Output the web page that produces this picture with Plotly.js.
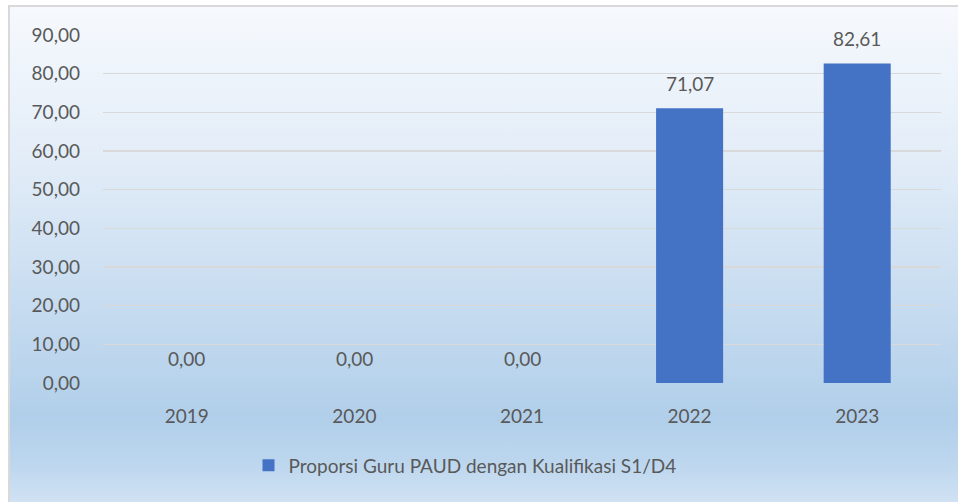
<!DOCTYPE html>
<html><head><meta charset="utf-8">
<script src="https://cdn.plot.ly/plotly-3.0.1.min.js"></script>
<style>
html,body{margin:0;padding:0;background:#fff;}
#wrap{position:absolute;left:8px;top:5px;width:950px;height:497px;box-sizing:border-box;border-left:2px solid #d9d9d9;border-top:2px solid #d9d9d9;
background:linear-gradient(to bottom,#f6f9fd 0%,#e3edf8 30%,#c7dcf0 60%,#b1cfea 83%,#bcd6ee 92%,#d0e2f3 100%);}
#chart{position:absolute;left:-10px;top:-7px;width:958px;height:502px;}
</style></head>
<body><div id="wrap"><div id="chart"></div></div>
<script>
const years = ['2019','2020','2021','2022','2023'];
const values = [0, 0, 0, 71.07, 82.61];
const seriesName = 'Proporsi Guru PAUD dengan Kualifikasi S1/D4';
const yTicks = [0,10,20,30,40,50,60,70,80,90];

const font = {family:'Lato, "Open Sans", sans-serif', size:19, color:'#595959'};
const labels = years.map((yr,i)=>({
  x: i, y: values[i], xref:'x', yref:'y',
  text: values[i].toFixed(2).replace('.',','),
  showarrow:false, yanchor:'middle', yshift:25, font:font
}));
Plotly.newPlot('chart',[{
  type:'bar', x:years, y:values, name:seriesName,
  marker:{color:'#4472c4'}, showlegend:true
}],{
  width:958, height:502,
  paper_bgcolor:'rgba(0,0,0,0)', plot_bgcolor:'rgba(0,0,0,0)',
  separators:',.',
  margin:{l:103, r:17, t:35, b:119},
  bargap:0.6,
  font:font,
  annotations: labels,
  xaxis:{type:'category', categoryarray:years, range:[-0.5,4.5], showline:false, ticks:'', tickfont:font, ticklabelstandoff:20, fixedrange:true},
  yaxis:{range:[0,90], tickvals:yTicks, tickformat:'.2f', gridcolor:'#d9d9d9', gridwidth:1.5,
         zeroline:false, showline:false, tickfont:font, ticklabelstandoff:22, fixedrange:true},
  showlegend:true,
  legend:{orientation:'h', x:0.432, xanchor:'center', y:-0.182, yanchor:'top', font:font, bgcolor:'rgba(0,0,0,0)'}
},{displayModeBar:false, staticPlot:true});
</script></body></html>
